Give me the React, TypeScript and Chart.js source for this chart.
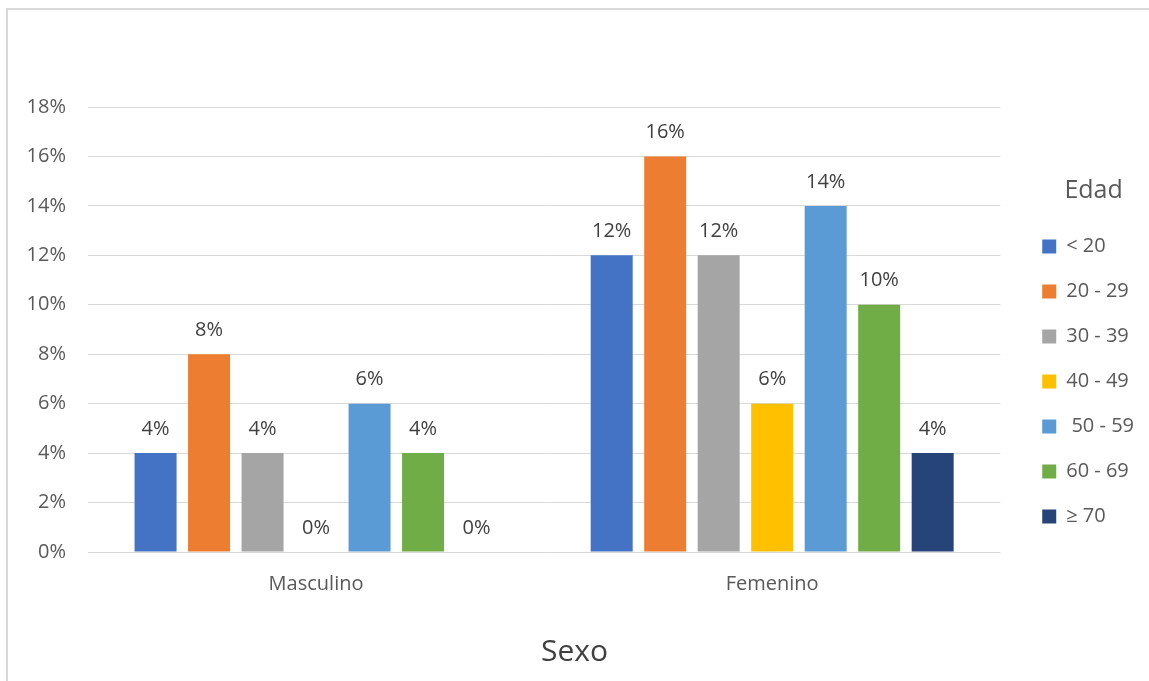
import React, { useEffect, useRef } from "react";
import { Chart, registerables } from "chart.js";

Chart.register(...registerables);

const categories = ["Masculino", "Femenino"];
const seriesLabels = ["< 20", "20 - 29", "30 - 39", "40 - 49", " 50 - 59", "60 - 69", "≥ 70"];
const seriesColors = ["#4472C4", "#ED7D31", "#A5A5A5", "#FFC000", "#5B9BD5", "#70AD47", "#264478"];
const under20 = [4, 12];
const age20to29 = [8, 16];
const age30to39 = [4, 12];
const age40to49 = [0, 6];
const age50to59 = [6, 14];
const age60to69 = [4, 10];
const age70plus = [0, 4];
const seriesValues = [under20, age20to29, age30to39, age40to49, age50to59, age60to69, age70plus];
const yTicks = [0, 2, 4, 6, 8, 10, 12, 14, 16, 18];

const FONT = "'Open Sans', 'Noto Sans', sans-serif";

const framePlugin = {
  id: "frame",
  beforeDraw(chart: any) {
    const ctx = chart.ctx;
    ctx.save();
    ctx.fillStyle = "#ffffff";
    ctx.fillRect(0, 0, chart.width, chart.height);
    ctx.strokeStyle = "#d9d9d9";
    ctx.lineWidth = 2;
    ctx.strokeRect(7, 9, chart.width + 50, chart.height + 50);
    ctx.restore();
  },
};

const layoutShiftPlugin = {
  id: "layoutShift",
  afterLayout(chart: any) {
    const lg = chart.legend;
    if (lg) {
      const dx = 17;
      const dy = -30;
      lg.left += dx;
      lg.right += dx;
      lg.top += dy;
      lg.bottom += dy;
      if (!lg.__titlePatched) {
        const orig = lg.drawTitle;
        lg.drawTitle = function (this: any) {
          const ctx = this.ctx;
          ctx.save();
          ctx.translate(13, 0);
          orig.call(this);
          ctx.restore();
        };
        lg.__titlePatched = true;
      }
    }
    const tb = chart.titleBlock;
    if (tb) {
      tb.left += 11;
      tb.right += 11;
    }
  },
};

const dataLabelPlugin = {
  id: "dataLabels",
  afterDatasetsDraw(chart: any) {
    const ctx = chart.ctx;
    ctx.save();
    ctx.font = `20px ${FONT}`;
    ctx.fillStyle = "#404040";
    ctx.textAlign = "center";
    ctx.textBaseline = "middle";
    chart.data.datasets.forEach((ds: any, i: number) => {
      const meta = chart.getDatasetMeta(i);
      meta.data.forEach((bar: any, j: number) => {
        ctx.fillText(`${ds.data[j]}%`, bar.x, bar.y - 24);
      });
    });
    ctx.restore();
  },
};

export default function App() {
  const ref = useRef<HTMLCanvasElement | null>(null);

  useEffect(() => {
    if (!ref.current) return;
    const chart = new Chart(ref.current, {
      type: "bar",
      data: {
        labels: categories,
        datasets: seriesLabels.map((label, i) => ({
          label,
          data: seriesValues[i],
          backgroundColor: seriesColors[i],
          borderWidth: 0,
          categoryPercentage: 0.821,
          barPercentage: 0.785,
        })),
      },
      options: {
        responsive: false,
        animation: false,
        layout: { padding: { top: 107, left: 0, right: 22, bottom: 0 } },
        plugins: {
          tooltip: { enabled: false },
          title: {
            display: true,
            position: "bottom",
            text: "Sexo",
            color: "#404040",
            font: { family: FONT, size: 30, weight: "normal" },
            padding: { top: 4, bottom: 11 },
          },
          legend: {
            position: "right",
            align: "center",
            title: {
              display: true,
              text: "Edad",
              color: "#595959",
              font: { family: FONT, size: 25 },
              padding: { top: 2, bottom: 3 },
            },
            labels: {
              boxWidth: 14,
              boxHeight: 14,
              padding: 25,
              color: "#595959",
              font: { family: FONT, size: 20 },
            },
          },
        },
        scales: {
          x: {
            grid: { display: false, drawTicks: false },
            border: { display: false },
            ticks: { color: "#595959", font: { family: FONT, size: 20 }, padding: 20 },
            afterFit(scale: any) {
              scale.height = 78;
            },
          },
          y: {
            min: 0,
            max: 18,
            afterBuildTicks(scale: any) {
              scale.ticks = yTicks.map((v) => ({ value: v }));
            },
            grid: { color: "#d9d9d9", drawTicks: false, lineWidth: 1 },
            border: { display: false },
            ticks: {
              color: "#595959",
              font: { family: FONT, size: 20 },
              padding: 22,
              callback: (v: any) => `${v}%`,
            },
            afterFit(scale: any) {
              scale.width = 88;
            },
          },
        },
      },
      plugins: [framePlugin, layoutShiftPlugin, dataLabelPlugin],
    });
    return () => chart.destroy();
  }, []);

  return (
    <div style={{ position: "absolute", left: 0, top: 0, width: 1149, height: 681 }}>
      <canvas ref={ref} width={1149} height={681} style={{ display: "block" }} />
    </div>
  );
}
